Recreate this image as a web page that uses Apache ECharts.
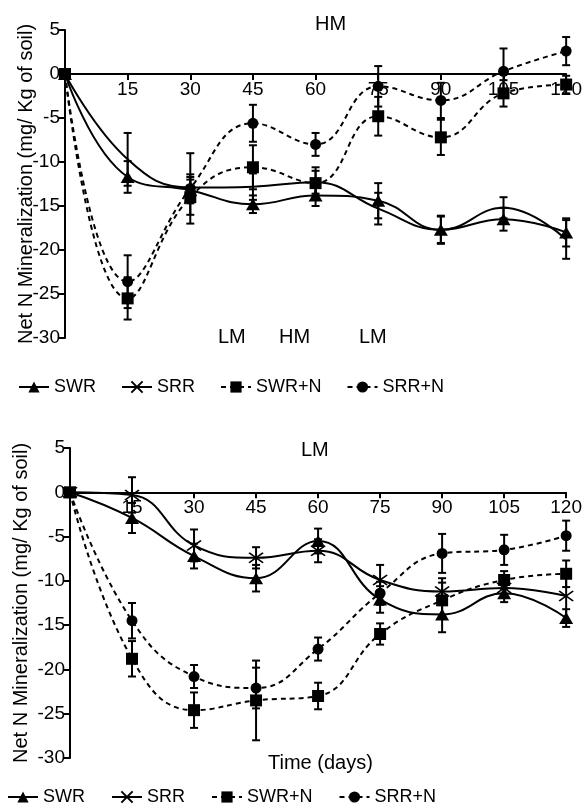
<!DOCTYPE html>
<html>
<head>
<meta charset="utf-8">
<script src="https://cdn.jsdelivr.net/npm/echarts@6/dist/echarts.min.js"></script>
<style>
  html, body { margin: 0; padding: 0; background: #fff; }
  #main { width: 585px; height: 805px; }
</style>
</head>
<body>
<div id="main"></div>
<script>
// sampling days
var days = [0, 15, 30, 45, 60, 75, 90, 105, 120];
var yTicks = [5, 0, -5, -10, -15, -20, -25, -30];

// top panel (HM / LM)
var topSWR     = [0, -11.7, -13.2, -14.8, -13.8, -14.4, -17.7, -16.5, -18.0];
var topSWRErr  = [0, 1.8, 1.5, 1.0, 1.2, 2.0, 1.6, 1.3, 1.6];
var topSRR     = [0, -9.7, -12.9, -12.8, -12.3, -15.3, -17.7, -15.2, -18.8];
var topSRRErr  = [0, 3.0, 1.5, 1.5, 1.3, 1.8, 1.5, 1.2, 2.2];
var topSWRN    = [0, -25.5, -14.0, -10.6, -12.4, -4.8, -7.2, -2.2, -1.2];
var topSWRNErr = [0, 2.4, 2.0, 2.5, 1.8, 2.2, 2.0, 1.5, 1.0];
var topSRRN    = [0, -23.6, -13.0, -5.6, -8.0, -1.4, -3.0, 0.3, 2.6];
var topSRRNErr = [0, 3.0, 4.0, 2.1, 1.3, 2.3, 2.0, 2.6, 1.6];

// bottom panel (LM)
var botSWR     = [0, -2.9, -7.2, -9.7, -5.5, -12.1, -13.8, -11.4, -14.2];
var botSWRErr  = [0, 1.7, 1.4, 1.5, 1.4, 1.5, 2.0, 1.0, 1.0];
var botSRR     = [0, -0.3, -6.0, -7.4, -6.6, -9.9, -11.2, -10.8, -11.7];
var botSRRErr  = [0, 2.0, 1.8, 1.2, 1.3, 1.7, 1.5, 1.0, 3.0];
var botSWRN    = [0, -18.8, -24.6, -23.5, -23.0, -16.0, -12.2, -9.9, -9.2];
var botSWRNErr = [0, 2.0, 2.0, 4.5, 1.5, 1.2, 2.0, 1.0, 1.5];
var botSRRN    = [0, -14.5, -20.8, -22.1, -17.7, -11.4, -6.9, -6.5, -4.9];
var botSRRNErr = [0, 2.0, 1.3, 2.3, 1.3, 1.3, 2.2, 1.7, 1.7];

var FONT = '"Liberation Sans", Arial, sans-serif';
var xSymbol = 'path://M0,0L14,10M14,0L0,10';

function pairs(vals){
  var res = [];
  for(var i=0;i<days.length;i++){
    res.push([days[i], vals[i]]);
  }
  return res;
}
function errData(vals, errs){
  var res = [];
  for(var i=0;i<days.length;i++){
    if(errs[i] > 0){
      res.push([days[i], vals[i]-errs[i], vals[i]+errs[i]]);
    }
  }
  return res;
}
function renderErr(params, api){
  var x = api.value(0);
  var pLo = api.coord([x, api.value(1)]);
  var pHi = api.coord([x, api.value(2)]);
  var w = 4;
  var st = {stroke:'#000', lineWidth:2};
  return {
    type:'group',
    children:[
      {type:'line', shape:{x1:pLo[0],y1:pLo[1],x2:pHi[0],y2:pHi[1]}, style:st},
      {type:'line', shape:{x1:pLo[0]-w,y1:pLo[1],x2:pLo[0]+w,y2:pLo[1]}, style:st},
      {type:'line', shape:{x1:pHi[0]-w,y1:pHi[1],x2:pHi[0]+w,y2:pHi[1]}, style:st}
    ]
  };
}

function lineSeries(name, vals, idx, sym, symSize, dashed, showSym){
  return {
    name:name,
    type:'line',
    xAxisIndex:idx,
    yAxisIndex:idx,
    data:pairs(vals),
    smooth:0.45,
    symbol: showSym===false ? 'none' : sym,
    symbolSize:symSize,
    showSymbol: showSym!==false,
    z:5,
    lineStyle:{color:'#000', width:2, type: dashed ? [5,4] : 'solid'},
    itemStyle:{color:'#000', borderColor:'#000', borderWidth: sym===xSymbol ? 1.6 : 0}
  };
}
function errSeries(vals, errs, idx){
  return {
    type:'custom',
    xAxisIndex:idx,
    yAxisIndex:idx,
    renderItem:renderErr,
    data:errData(vals, errs),
    z:3,
    silent:true
  };
}

// x axis drawn on the zero line: shift it up from the grid bottom
function xAxisOpt(idx, offset){
  return {
    gridIndex:idx,
    type:'value',
    position:'bottom',
    offset:offset,
    min:0, max:120, interval:15,
    axisLine:{onZero:false, lineStyle:{color:'#000', width:2}},
    axisTick:{show:true, length:6, lineStyle:{color:'#000', width:2}},
    axisLabel:{color:'#000', fontSize:19, fontFamily:FONT, margin:6, showMinLabel:false},
    splitLine:{show:false}
  };
}
function yAxisOpt(idx, gap){
  return {
    gridIndex:idx,
    type:'value',
    min:yTicks[yTicks.length-1], max:yTicks[0], interval:5,
    name:'Net N Mineralization (mg/ Kg of soil)',
    nameLocation:'middle',
    nameGap:gap,
    nameMoveOverlap:false,
    nameTextStyle:{color:'#000', fontSize:20, fontFamily:FONT},
    axisLine:{show:true, onZero:false, lineStyle:{color:'#000', width:2}},
    axisTick:{show:true, length:6, lineStyle:{color:'#000', width:2}},
    axisLabel:{color:'#000', fontSize:19, fontFamily:FONT, margin:5},
    splitLine:{show:false}
  };
}
function legendOpt(left, top, gap){
  return {
    left:left, top:top,
    itemWidth:30, itemHeight:14, itemGap:gap,
    data:['SWR','SRR','SWR+N','SRR+N'],
    textStyle:{color:'#000', fontSize:18, fontFamily:FONT},
    selectedMode:false
  };
}
function note(text, x, y){
  return {type:'text', left:x, top:y, style:{text:text, fill:'#000', font:'20px ' + FONT}};
}

var chart = echarts.init(document.getElementById('main'), null, {renderer:'canvas'});
chart.setOption({
  backgroundColor:'#fff',
  animation:false,
  grid:[
    {left:65, right:17, top:30, height:308},
    {left:70, right:13, top:448, height:310}
  ],
  xAxis:[xAxisOpt(0, -264), xAxisOpt(1, -265.7)],
  yAxis:[yAxisOpt(0, 29), yAxisOpt(1, 39)],
  legend:[legendOpt(13, 373, 25), legendOpt(2, 783, 26)],
  graphic:[
    note('HM', 315, 14),
    note('LM', 218, 327),
    note('HM', 279, 327),
    note('LM', 359, 327),
    note('LM', 301, 440),
    note('Time (days)', 268, 753)
  ],
  series:[
    // bottom panel first so the legend picks up its markers
    errSeries(botSWR, botSWRErr, 1),
    errSeries(botSRR, botSRRErr, 1),
    errSeries(botSWRN, botSWRNErr, 1),
    errSeries(botSRRN, botSRRNErr, 1),
    lineSeries('SWR', botSWR, 1, 'triangle', [14,12], false),
    lineSeries('SRR', botSRR, 1, xSymbol, [14,10], false),
    lineSeries('SWR+N', botSWRN, 1, 'rect', 12, true),
    lineSeries('SRR+N', botSRRN, 1, 'circle', 11, true),
    errSeries(topSWR, topSWRErr, 0),
    errSeries(topSRR, topSRRErr, 0),
    errSeries(topSWRN, topSWRNErr, 0),
    errSeries(topSRRN, topSRRNErr, 0),
    lineSeries('SWR', topSWR, 0, 'triangle', [14,12], false),
    lineSeries('SRR', topSRR, 0, xSymbol, [14,10], false, false),
    lineSeries('SWR+N', topSWRN, 0, 'rect', 12, true),
    lineSeries('SRR+N', topSRRN, 0, 'circle', 11, true)
  ]
});
</script>
</body>
</html>
